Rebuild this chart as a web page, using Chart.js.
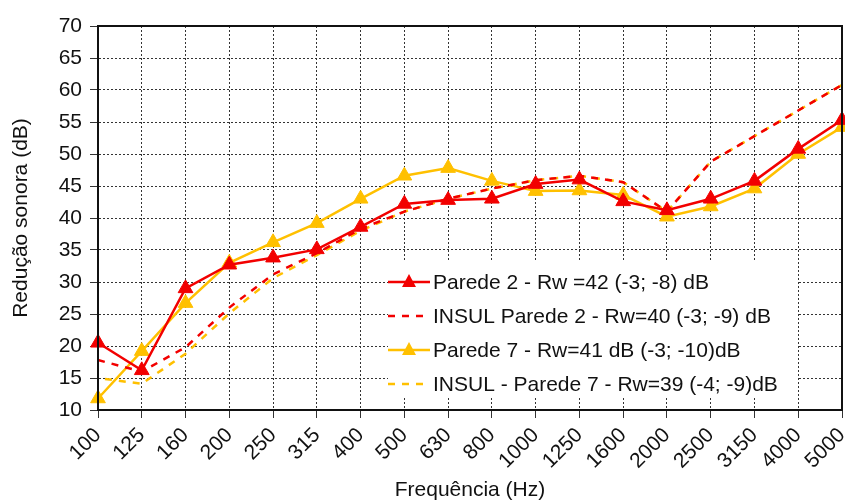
<!DOCTYPE html>
<html>
<head>
<meta charset="utf-8">
<script src="https://cdn.jsdelivr.net/npm/chart.js@4/dist/chart.umd.min.js"></script>
<style>
    html, body { margin: 0; padding: 0; background: #fff; }
    #wrap { width: 845px; height: 500px; }
</style>
</head>
<body>
<div id="wrap"><canvas id="ReductionGraph" width="845" height="500"></canvas></div>
<script>
var frequencies = ["100", "125", "160", "200", "250", "315", "400", "500", "630", "800",
    "1000", "1250", "1600", "2000", "2500", "3150", "4000", "5000"];

var parede2 = [20.5, 16.2, 29.0, 32.7, 33.8, 35.1, 38.6, 42.2, 42.8, 43.0,
    45.3, 46.0, 42.6, 41.2, 43.0, 45.8, 50.8, 55.3];
var insulParede2 = [17.8, 16.0, 19.8, 26.0, 31.2, 34.5, 38.3, 41.0, 43.0, 44.6,
    45.9, 46.6, 45.6, 41.0, 48.8, 52.8, 56.8, 60.8];
var parede7 = [11.8, 19.2, 26.7, 33.0, 36.2, 39.2, 43.0, 46.6, 47.8, 45.8,
    44.2, 44.3, 43.6, 40.2, 41.8, 44.6, 50.0, 54.2];
var insulParede7 = [15.0, 14.1, 18.8, 25.1, 30.6, 34.2, 38.0, 41.0, 43.0, 44.6,
    45.9, 46.6, 45.6, 41.0, 48.8, 52.8, 56.8, 60.8];

var seriesNames = [
    "Parede 2 - Rw =42 (-3; -8) dB",
    "INSUL Parede 2 - Rw=40 (-3; -9) dB",
    "Parede 7 - Rw=41 dB (-3; -10)dB",
    "INSUL - Parede 7 - Rw=39 (-4; -9)dB"
];

var yMin = 10, yMax = 70, yStep = 5;

var RED = "#f20000";
var GOLD = "#ffc000";
var FONT = "'Liberation Sans', Arial, sans-serif";
var FONT_SIZE = 21;

// black frame round the plot area
var frame = {
    id: "frame",
    afterDraw: function (chart) {
        var a = chart.chartArea, ctx = chart.ctx;
        ctx.save();
        ctx.strokeStyle = "#111";
        ctx.lineWidth = 2;
        ctx.strokeRect(a.left, a.top, a.right - a.left, a.bottom - a.top);
        ctx.restore();
    }
};

// legend sitting inside the plot, drawn over the grid but under the lines
var boxLegend = {
    id: "boxLegend",
    beforeDatasetsDraw: function (chart) {
        var a = chart.chartArea, ctx = chart.ctx;
        var x0 = a.left + 290, y0 = a.top + 236, rowH = 34;
        ctx.save();
        ctx.fillStyle = "#fff";
        ctx.fillRect(x0, y0, 410, 136);
        ctx.font = FONT_SIZE + "px " + FONT;
        ctx.textBaseline = "middle";
        chart.data.datasets.forEach(function (ds, i) {
            var y = y0 + 20 + i * rowH;
            ctx.strokeStyle = ds.borderColor;
            ctx.lineWidth = ds.borderWidth;
            ctx.setLineDash(ds.borderDash || []);
            ctx.beginPath();
            ctx.moveTo(x0, y);
            ctx.lineTo(x0 + 42, y);
            ctx.stroke();
            ctx.setLineDash([]);
            if (ds.pointRadius > 0) {
                ctx.fillStyle = ds.pointBackgroundColor;
                ctx.beginPath();
                ctx.moveTo(x0 + 21, y - 8);
                ctx.lineTo(x0 + 28, y + 5);
                ctx.lineTo(x0 + 14, y + 5);
                ctx.closePath();
                ctx.fill();
            }
            ctx.fillStyle = "#111";
            ctx.fillText(ds.label, x0 + 45, y + 1);
        });
        ctx.restore();
    }
};

function solidSet(label, data, color) {
    return {
        label: label,
        data: data,
        borderColor: color,
        backgroundColor: color,
        borderWidth: 2.5,
        pointStyle: "triangle",
        pointRadius: 8.5,
        pointHoverRadius: 8.5,
        pointBackgroundColor: color,
        pointBorderColor: color,
        pointBorderWidth: 1,
        tension: 0,
        fill: false,
        clip: false
    };
}

function dashedSet(label, data, color, offset) {
    return {
        label: label,
        data: data,
        borderColor: color,
        backgroundColor: color,
        borderWidth: 2.5,
        borderDash: [7, 7],
        borderDashOffset: offset,
        pointRadius: 0,
        pointHoverRadius: 0,
        tension: 0,
        fill: false
    };
}

var reductionContext = document.getElementById("ReductionGraph").getContext("2d");
var reductionChart = new Chart(reductionContext, {
    type: "line",
    data: {
        labels: frequencies,
        datasets: [
            solidSet(seriesNames[0], parede2, RED),
            dashedSet(seriesNames[1], insulParede2, RED, 0),
            solidSet(seriesNames[2], parede7, GOLD),
            dashedSet(seriesNames[3], insulParede7, GOLD, 7)
        ]
    },
    options: {
        responsive: false,
        animation: false,
        layout: { autoPadding: false, padding: { top: 26, right: 3, left: 0, bottom: 0 } },
        plugins: {
            legend: { display: false },
            tooltip: { enabled: false }
        },
        scales: {
            x: {
                offset: false,
                afterFit: function (scale) {
                    scale.height = 90;
                    scale.paddingRight = 0;
                    scale.paddingLeft = 0;
                },
                grid: { color: "#333", lineWidth: 1, tickLength: 8 },
                border: { display: true, color: "#111", width: 2, dash: [2, 2] },
                ticks: {
                    color: "#111",
                    font: { family: FONT, size: FONT_SIZE },
                    minRotation: 45,
                    maxRotation: 45,
                    autoSkip: false,
                    padding: 5
                },
                title: {
                    display: true,
                    text: "Frequência (Hz)",
                    color: "#111",
                    font: { family: FONT, size: FONT_SIZE },
                    padding: { top: 0, bottom: -3 }
                }
            },
            y: {
                min: yMin,
                max: yMax,
                afterFit: function (scale) {
                    scale.width = 98;
                    scale.paddingTop = 0;
                    scale.paddingBottom = 0;
                },
                grid: { color: "#333", lineWidth: 1, tickLength: 8 },
                border: { display: true, color: "#111", width: 2, dash: [2, 2] },
                ticks: {
                    stepSize: yStep,
                    color: "#111",
                    font: { family: FONT, size: FONT_SIZE },
                    padding: 8
                },
                title: {
                    display: true,
                    text: "Redução sonora (dB)",
                    color: "#111",
                    font: { family: FONT, size: FONT_SIZE },
                    padding: { top: 9, bottom: 0 }
                }
            }
        }
    },
    plugins: [boxLegend, frame]
});
</script>
</body>
</html>
